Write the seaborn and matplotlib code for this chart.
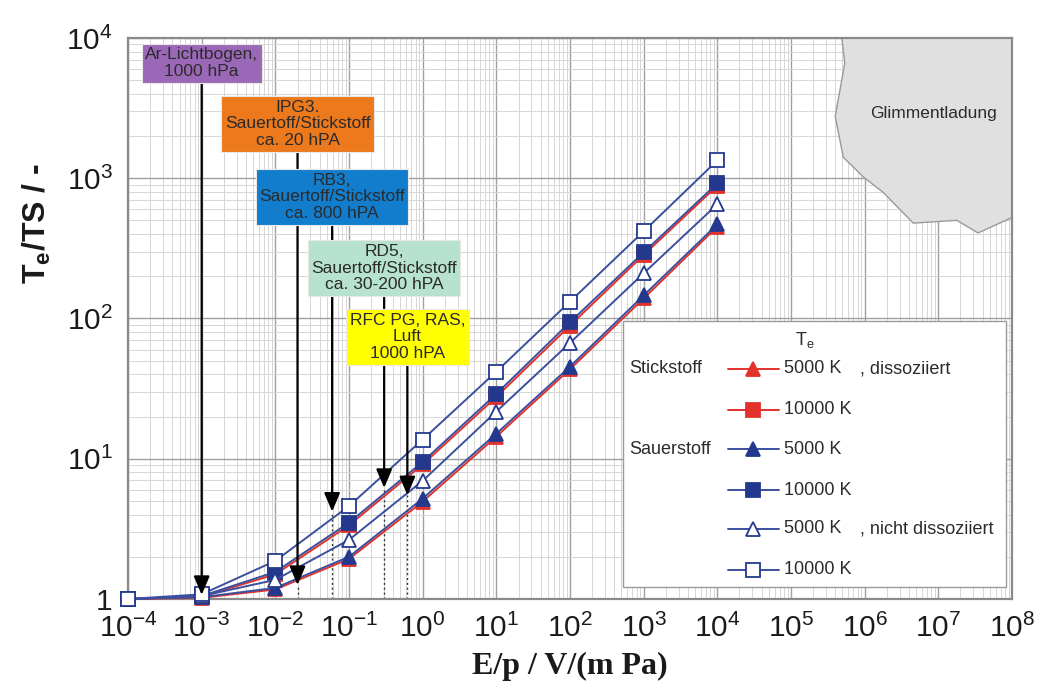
import numpy as np
import matplotlib
matplotlib.use("Agg")
import matplotlib.pyplot as plt
from matplotlib.lines import Line2D
from matplotlib.patches import Rectangle
from matplotlib.ticker import FixedLocator, FixedFormatter, LogLocator, NullFormatter
import seaborn as sns

# ---------------- data ----------------
E_p = [1e-4, 1e-3, 1e-2, 1e-1, 1, 10, 100, 1000, 1e4]

n2_5000_diss = [1.0, 1.02, 1.17, 1.93, 4.95, 14.4, 43.5, 139, 452]
n2_10000_diss = [1.0, 1.04, 1.50, 3.35, 9.1, 27.6, 89, 284, 885]
o2_5000_diss = [1.0, 1.03, 1.20, 2.00, 5.2, 15.1, 45.4, 146, 469]
o2_10000_diss = [1.0, 1.05, 1.56, 3.50, 9.5, 29.0, 94, 296, 920]
o2_5000_nd = [1.0, 1.05, 1.37, 2.64, 6.96, 21.7, 67, 210, 652]
o2_10000_nd = [1.0, 1.08, 1.87, 4.60, 13.7, 41.8, 132, 418, 1340]

legend_groups = ["Stickstoff", "", "Sauerstoff", "", "", ""]
legend_labels = ["5000 K", "10000 K", "5000 K", "10000 K", "5000 K", "10000 K"]
legend_suffix = [", dissoziiert", "", "", "", ", nicht dissoziiert", ""]

anno_texts = ["Ar-Lichtbogen,\n1000 hPa",
              "IPG3.\nSauertoff/Stickstoff\nca. 20 hPA",
              "RB3,\nSauertoff/Stickstoff\nca. 800 hPA",
              "RD5,\nSauertoff/Stickstoff\nca. 30-200 hPA",
              "RFC PG, RAS,\nLuft\n1000 hPA"]
anno_x = [1.0e-3, 0.02, 0.059, 0.30, 0.62]
anno_tip_y = [1.07, 1.26, 4.2, 6.2, 5.5]
anno_box_y = [6600, 2440, 735, 229, 73.8]
anno_colors = ["#9a68b6", "#ec791c", "#127dcd", "#b6e2cf", "#ffff00"]
dotted_x = [0.02, 0.059, 0.30, 0.62]
dotted_top = [1.26, 4.2, 6.2, 5.5]

glim_logx = [5.69, 5.73, 5.60, 5.71, 5.98, 6.25, 6.66, 7.25, 7.54, 8.0, 8.0]
glim_logy = [4.0, 3.82, 3.44, 3.15, 3.01, 2.90, 2.68, 2.70, 2.61, 2.72, 4.0]

x_ticks = [1e-4, 1e-3, 1e-2, 1e-1, 1, 10, 100, 1e3, 1e4, 1e5, 1e6, 1e7, 1e8]
x_ticklabels = [r"$\mathrm{10^{-4}}$", r"$\mathrm{10^{-3}}$", r"$\mathrm{10^{-2}}$",
                r"$\mathrm{10^{-1}}$", r"$\mathrm{10^{0}}$", r"$\mathrm{10^{1}}$",
                r"$\mathrm{10^{2}}$", r"$\mathrm{10^{3}}$", r"$\mathrm{10^{4}}$",
                r"$\mathrm{10^{5}}$", r"$\mathrm{10^{6}}$", r"$\mathrm{10^{7}}$",
                r"$\mathrm{10^{8}}$"]
y_ticks = [1, 10, 100, 1000, 10000]
y_ticklabels = ["1", r"$\mathrm{10^{1}}$", r"$\mathrm{10^{2}}$", r"$\mathrm{10^{3}}$",
                r"$\mathrm{10^{4}}$"]

# ---------------- style ----------------
sns.set_style("white")
plt.rcParams["font.family"] = ["Liberation Sans", "DejaVu Sans"]
plt.rcParams["mathtext.fontset"] = "custom"
plt.rcParams["mathtext.rm"] = "Liberation Sans"
plt.rcParams["mathtext.bf"] = "Liberation Sans:bold"
plt.rcParams["mathtext.it"] = "Liberation Sans:italic"

RED = "#e2322b"
BLUE_LINE = "#3b4f9e"
BLUE_MK = "#24398e"
TXT = "#2b2b2b"

fig = plt.figure(figsize=(10.45, 6.97), dpi=100)
ax = fig.add_axes([0.1225, 0.1406, 0.8459, 0.8049])
ax.set_xscale("log")
ax.set_yscale("log")

# grid
ax.set_axisbelow(True)
ax.grid(True, which="major", color="#a0a0a0", lw=1.0, zorder=0)
ax.grid(True, which="minor", color="#d6d6d6", lw=0.7, zorder=0)
ax.xaxis.set_minor_locator(LogLocator(base=10, subs=np.arange(2, 10), numticks=100))
ax.yaxis.set_minor_locator(LogLocator(base=10, subs=np.arange(2, 10), numticks=100))
ax.xaxis.set_minor_formatter(NullFormatter())
ax.yaxis.set_minor_formatter(NullFormatter())

# Glimmentladung region
ax.fill(np.power(10.0, glim_logx), np.power(10.0, glim_logy), facecolor="#e0e0e0",
        edgecolor="#9a9a9a", lw=1.0, zorder=1.5)
ax.text(10 ** 6.93, 10 ** 3.465, "Glimmentladung", ha="center", va="center",
        fontsize=12.5, color=TXT, zorder=2)

# series: (values, marker, line colour, face, edge)
series = {
    "n2_5": (n2_5000_diss, "^", RED, RED, RED),
    "n2_10": (n2_10000_diss, "s", RED, RED, RED),
    "o2_5": (o2_5000_diss, "^", BLUE_LINE, BLUE_MK, BLUE_MK),
    "o2_10": (o2_10000_diss, "s", BLUE_LINE, BLUE_MK, BLUE_MK),
    "o2_5nd": (o2_5000_nd, "^", BLUE_LINE, "white", BLUE_MK),
    "o2_10nd": (o2_10000_nd, "s", BLUE_LINE, "white", BLUE_MK),
}
for key in ["n2_5", "n2_10", "o2_5", "o2_10", "o2_5nd", "o2_10nd"]:
    vals, mk, lc, fc, ec = series[key]
    sns.lineplot(x=E_p, y=vals, ax=ax, color=lc, lw=1.4, marker=mk, markersize=10,
                 markerfacecolor=fc, markeredgecolor=ec, markeredgewidth=1.3,
                 zorder=3, legend=False, clip_on=False)

# dotted guides
for xd, yt in zip(dotted_x, dotted_top):
    ax.plot([xd, xd], [1.0, yt], ls=(0, (1.5, 2)), color="#333333", lw=1.0, zorder=2.5)

# annotation boxes with arrows
for txt, xa, yt, yb, col in zip(anno_texts, anno_x, anno_tip_y, anno_box_y, anno_colors):
    ax.annotate(txt, xy=(xa, yt), xytext=(xa, yb), textcoords="data",
                ha="center", va="center", fontsize=12.5, color=TXT, linespacing=1.15,
                bbox=dict(boxstyle="square,pad=0.2", facecolor=col, edgecolor="#e8e8e8", lw=0.8),
                arrowprops=dict(arrowstyle="-|>,head_length=0.75,head_width=0.32",
                                mutation_scale=15, color="black", lw=1.6,
                                shrinkA=0, shrinkB=0),
                zorder=4)

# axes setup
ax.set_xlim(1e-4, 1e8)
ax.set_ylim(1, 1e4)
ax.xaxis.set_major_locator(FixedLocator(x_ticks))
ax.xaxis.set_major_formatter(FixedFormatter(x_ticklabels))
ax.yaxis.set_major_locator(FixedLocator(y_ticks))
ax.yaxis.set_major_formatter(FixedFormatter(y_ticklabels))
ax.tick_params(axis="both", which="major", labelsize=21.5, labelcolor="#1a1a1a",
               length=5, color="#888888", direction="out", pad=6)
ax.tick_params(axis="both", which="minor", length=0)
for sp in ax.spines.values():
    sp.set_color("#8a8a8a")
    sp.set_linewidth(1.6)

ax.set_xlabel("E/p / V/(m Pa)", family="Liberation Serif", fontweight="bold",
              fontsize=23, color="#1a1a1a", labelpad=6)
ax.set_ylabel(r"T$_\mathbf{e}$/TS / -", fontweight="bold", fontsize=23, color="#1a1a1a")
ax.yaxis.set_label_coords(-0.085, 0.67)

# custom legend
T = ax.transAxes
ax.add_patch(Rectangle((0.560, 0.0214), 0.433, 0.474, transform=T, facecolor="white",
                       edgecolor="#9a9a9a", lw=1.0, zorder=5))
ax.text(0.766, 0.462, r"T$_\mathrm{e}$", transform=T, ha="center", va="center",
        fontsize=13, color=TXT, zorder=6)
row_y = [0.410, 0.337, 0.267, 0.194, 0.125, 0.052]
for key, ry, grp, lab, suf in zip(["n2_5", "n2_10", "o2_5", "o2_10", "o2_5nd", "o2_10nd"],
                                  row_y, legend_groups, legend_labels, legend_suffix):
    vals, mk, lc, fc, ec = series[key]
    ax.add_artist(Line2D([0.679, 0.736], [ry, ry], transform=T, color=lc, lw=1.4, zorder=6))
    ax.add_artist(Line2D([0.707], [ry], transform=T, marker=mk, markersize=10,
                         markerfacecolor=fc, markeredgecolor=ec, markeredgewidth=1.3,
                         ls="none", zorder=6))
    ax.text(0.742, ry, lab, transform=T, ha="left", va="center", fontsize=13,
            color=TXT, zorder=6)
    if grp:
        ax.text(0.567, ry, grp, transform=T, ha="left", va="center", fontsize=13,
                color=TXT, zorder=6)
    if suf:
        ax.text(0.828, ry, suf, transform=T, ha="left", va="center", fontsize=13,
                color=TXT, zorder=6)

fig.savefig("out.png", dpi=100)
